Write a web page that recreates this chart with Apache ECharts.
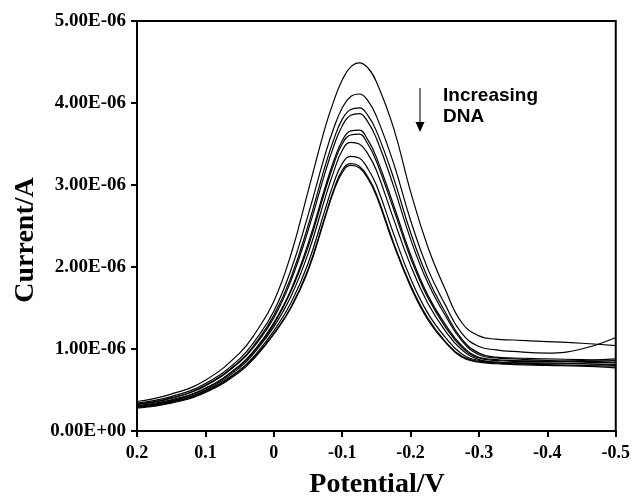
<!DOCTYPE html>
<html>
<head>
<meta charset="utf-8">
<script src="https://cdn.jsdelivr.net/npm/echarts@6/dist/echarts.min.js"></script>
<style>
html,body{margin:0;padding:0;background:#fff;}
#chart{width:633px;height:497px;}
</style>
</head>
<body>
<div id="chart"></div>
<script>
// Potential (V), shared sampling grid
const potentials = [0.2, 0.15, 0.1, 0.05, 0.025, 0, -0.025, -0.05, -0.075, -0.0875, -0.1, -0.1125, -0.125, -0.1375, -0.15, -0.175, -0.2, -0.225, -0.25, -0.275, -0.3, -0.325, -0.35, -0.4, -0.45, -0.5];

// Current in microamps (x1e-6 A), one array per scan
const scan1  = [0.36, 0.45, 0.62, 0.95, 1.22, 1.58, 2.15, 2.92, 3.70, 4.02, 4.28, 4.44, 4.49, 4.43, 4.26, 3.70, 2.92, 2.25, 1.74, 1.32, 1.16, 1.12, 1.11, 1.09, 1.07, 1.04];
const scan2  = [0.34, 0.42, 0.58, 0.88, 1.13, 1.46, 1.96, 2.63, 3.37, 3.69, 3.94, 4.08, 4.11, 4.03, 3.84, 3.27, 2.57, 1.98, 1.55, 1.19, 1.03, 0.99, 0.97, 0.95, 1.00, 1.14];
const scan3  = [0.33, 0.40, 0.56, 0.85, 1.09, 1.41, 1.87, 2.50, 3.23, 3.55, 3.80, 3.92, 3.94, 3.85, 3.66, 3.09, 2.42, 1.87, 1.46, 1.12, 0.95, 0.90, 0.89, 0.88, 0.87, 0.86];
const scan4  = [0.32, 0.40, 0.55, 0.84, 1.07, 1.38, 1.83, 2.44, 3.15, 3.47, 3.72, 3.85, 3.87, 3.77, 3.57, 2.99, 2.34, 1.81, 1.42, 1.10, 0.93, 0.89, 0.88, 0.86, 0.85, 0.84];
const scan5  = [0.31, 0.38, 0.52, 0.80, 1.02, 1.32, 1.72, 2.28, 2.97, 3.29, 3.54, 3.66, 3.67, 3.55, 3.34, 2.76, 2.15, 1.66, 1.31, 1.04, 0.90, 0.87, 0.86, 0.85, 0.84, 0.83];
const scan6  = [0.30, 0.37, 0.52, 0.79, 1.01, 1.30, 1.70, 2.24, 2.93, 3.25, 3.50, 3.61, 3.62, 3.50, 3.29, 2.71, 2.11, 1.63, 1.28, 1.02, 0.89, 0.86, 0.85, 0.85, 0.86, 0.88];
const scan7  = [0.30, 0.36, 0.50, 0.77, 0.99, 1.27, 1.64, 2.16, 2.84, 3.16, 3.42, 3.52, 3.50, 3.38, 3.18, 2.59, 2.02, 1.56, 1.23, 0.99, 0.87, 0.84, 0.83, 0.82, 0.82, 0.81];
const scan8  = [0.29, 0.35, 0.48, 0.74, 0.95, 1.22, 1.56, 2.04, 2.70, 3.02, 3.26, 3.35, 3.33, 3.20, 3.00, 2.41, 1.86, 1.44, 1.15, 0.94, 0.86, 0.84, 0.83, 0.83, 0.82, 0.80];
const scan9  = [0.30, 0.36, 0.49, 0.74, 0.93, 1.19, 1.51, 1.97, 2.62, 2.94, 3.18, 3.26, 3.23, 3.10, 2.89, 2.30, 1.78, 1.38, 1.10, 0.91, 0.85, 0.83, 0.82, 0.81, 0.80, 0.79];
const scan10 = [0.28, 0.34, 0.47, 0.72, 0.92, 1.18, 1.50, 1.95, 2.60, 2.92, 3.15, 3.24, 3.21, 3.08, 2.87, 2.28, 1.76, 1.36, 1.09, 0.90, 0.84, 0.82, 0.81, 0.80, 0.79, 0.77];

const scans = [scan1, scan2, scan3, scan4, scan5, scan6, scan7, scan8, scan9, scan10];

// Axis tick values
const xTicks = [0.2, 0.1, 0, -0.1, -0.2, -0.3, -0.4, -0.5];
const yTicksA = [0, 1e-6, 2e-6, 3e-6, 4e-6, 5e-6];

function fmtSci(v) {
  if (Math.abs(v) < 1e-15) return '0.00E+00';
  let e = Math.floor(Math.log10(Math.abs(v)) + 1e-9);
  let m = v / Math.pow(10, e);
  if (Math.abs(m) >= 9.995) { m /= 10; e += 1; }
  return m.toFixed(2) + 'E' + (e < 0 ? '-' : '+') + String(Math.abs(e)).padStart(2, '0');
}
function fmtPot(v) {
  const r = Math.round(v * 10) / 10;
  if (Math.abs(r) < 1e-9) return '0';
  return String(r);
}

const serif = '"Liberation Serif", "Times New Roman", serif';
const sans = '"Liberation Sans", Arial, sans-serif';

const chart = echarts.init(document.getElementById('chart'), null, { renderer: 'canvas' });

const series = scans.map((s, k) => ({
  type: 'line',
  name: 'scan' + (k + 1),
  data: potentials.map((p, i) => [p, s[i] * 1e-6]),
  showSymbol: false,
  smooth: 0.45,
  silent: true,
  lineStyle: { color: '#000', width: 1.2 },
  animation: false
}));

chart.setOption({
  animation: false,
  backgroundColor: '#fff',
  grid: {
    left: 137, right: 16, top: 21, bottom: 66,
    show: true, borderColor: '#000', borderWidth: 2, backgroundColor: 'transparent'
  },
  xAxis: {
    type: 'value',
    min: xTicks[xTicks.length - 1],
    max: xTicks[0],
    interval: 0.1,
    inverse: true,
    axisLine: { show: true, onZero: false, lineStyle: { color: '#000', width: 2 } },
    axisTick: { show: true, inside: false, length: 6, lineStyle: { color: '#000', width: 2 } },
    splitLine: { show: false },
    axisLabel: {
      margin: 13,
      formatter: fmtPot,
      fontFamily: serif, fontWeight: 'bold', fontSize: 18, color: '#000'
    }
  },
  yAxis: {
    type: 'value',
    min: yTicksA[0],
    max: yTicksA[yTicksA.length - 1],
    interval: 1e-6,
    axisLine: { show: true, onZero: false, lineStyle: { color: '#000', width: 2 } },
    axisTick: { show: true, inside: false, length: 6, lineStyle: { color: '#000', width: 2 } },
    splitLine: { show: false },
    axisLabel: {
      margin: 11,
      formatter: fmtSci,
      fontFamily: serif, fontWeight: 'bold', fontSize: 19, color: '#000'
    }
  },
  graphic: [
    {
      type: 'text', x: 377, y: 485,
      style: { text: 'Potential/V', font: 'bold 28px ' + serif, fill: '#000',
               align: 'center', verticalAlign: 'middle', textAlign: 'center', textVerticalAlign: 'middle' }
    },
    {
      type: 'text', x: 26, y: 240, rotation: Math.PI / 2,
      style: { text: 'Current/A', font: 'bold 28px ' + serif, fill: '#000',
               align: 'center', verticalAlign: 'middle', textAlign: 'center', textVerticalAlign: 'middle' }
    },
    {
      type: 'line', shape: { x1: 420, y1: 88, x2: 420, y2: 124 },
      style: { stroke: '#333', lineWidth: 1.3 }
    },
    {
      type: 'polygon', shape: { points: [[415.5, 122], [424.5, 122], [420, 132]] },
      style: { fill: '#000' }
    },
    {
      type: 'text', x: 443, y: 96,
      style: { text: 'Increasing', font: 'bold 19px ' + sans, fill: '#000',
               align: 'left', verticalAlign: 'middle', textAlign: 'left', textVerticalAlign: 'middle' }
    },
    {
      type: 'text', x: 443, y: 117,
      style: { text: 'DNA', font: 'bold 19px ' + sans, fill: '#000',
               align: 'left', verticalAlign: 'middle', textAlign: 'left', textVerticalAlign: 'middle' }
    }
  ],
  series: series
});
</script>
</body>
</html>
